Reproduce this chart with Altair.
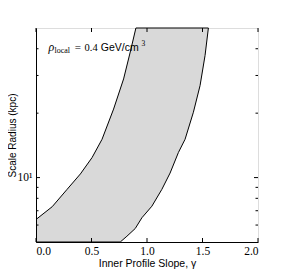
import altair as alt
import pandas as pd

# Boundary of the allowed band
left_gamma = [0.0, 0.146, 0.280, 0.400, 0.505, 0.595, 0.699, 0.789, 0.849, 0.900]
left_r = [6.37, 7.31, 8.81, 10.4, 12.4, 15.1, 20.9, 28.9, 38.6, 50.0]
right_gamma = [0.759, 0.819, 0.894, 0.954, 1.044, 1.134, 1.208, 1.283, 1.343, 1.418, 1.478, 1.523, 1.553]
right_r = [5.0, 5.32, 5.78, 6.49, 7.35, 8.81, 10.5, 13.1, 15.1, 20.2, 26.9, 37.2, 50.0]

# Axis ranges and ticks
x_domain = [0.0, 2.0]
y_domain = [5, 50]
x_ticks = [0.0, 0.5, 1.0, 1.5, 2.0]
y_major = [10]
y_minor = [6, 7, 8, 9, 20, 30, 40]

W, H = 222, 214
xs = alt.Scale(domain=x_domain, nice=False, zero=False)
ys = alt.Scale(type="log", domain=y_domain, nice=False)

# closed outline of the band: left curve up, right curve down, bottom-left corner
poly_g = left_gamma + right_gamma[::-1] + [x_domain[0]]
poly_r = left_r + right_r[::-1] + [y_domain[0]]
poly = pd.DataFrame({"g": poly_g, "r": poly_r, "o": range(len(poly_g))})
xt = pd.DataFrame({"v": x_ticks})
ymaj = pd.DataFrame({"v": y_major})
ymin = pd.DataFrame({"v": y_minor})

serif = "Liberation Serif"
sans = "Liberation Sans"

xaxis = alt.Axis(values=x_ticks, format=".1f", ticks=False, tickSize=0, grid=False,
                 labelFont=serif, labelFontSize=11.5, labelColor="black", labelPadding=3,
                 title="Inner Profile Slope, γ", titleFont=sans, titleFontSize=10.5,
                 titleFontWeight="normal", titleColor="black", titlePadding=2,
                 domainColor="black", domainWidth=1, zindex=1)
yaxis = alt.Axis(values=[10], labelExpr="datum.value == 10 ? '10¹' : ''", ticks=False,
                 tickSize=0, grid=False, labelFont=serif, labelFontSize=11.5,
                 labelColor="black", labelPadding=4,
                 title="Scale Radius (kpc)", titleFont=sans, titleFontSize=10,
                 titleFontWeight="normal", titleColor="black", titlePadding=0,
                 domainColor="black", domainWidth=1, zindex=1)

band = alt.Chart(poly).mark_line(fill="#d9d9d9", stroke="black", strokeWidth=1,
                                 strokeJoin="round").encode(
    x=alt.X("g:Q", scale=xs, axis=xaxis),
    y=alt.Y("r:Q", scale=ys, axis=yaxis),
    order="o:Q",
)

# inward ticks on all four sides
tb = alt.Chart(xt).mark_rule(color="black", strokeWidth=1).encode(
    x=alt.X("v:Q", scale=xs), y=alt.value(H), y2=alt.value(H - 4))
tt = alt.Chart(xt).mark_rule(color="black", strokeWidth=1).encode(
    x=alt.X("v:Q", scale=xs), y=alt.value(0), y2=alt.value(4))
tlM = alt.Chart(ymaj).mark_rule(color="black", strokeWidth=1).encode(
    y=alt.Y("v:Q", scale=ys), x=alt.value(0), x2=alt.value(4))
trM = alt.Chart(ymaj).mark_rule(color="black", strokeWidth=1).encode(
    y=alt.Y("v:Q", scale=ys), x=alt.value(W), x2=alt.value(W - 4))
tlm = alt.Chart(ymin).mark_rule(color="black", strokeWidth=1).encode(
    y=alt.Y("v:Q", scale=ys), x=alt.value(0), x2=alt.value(2.5))
trm = alt.Chart(ymin).mark_rule(color="black", strokeWidth=1).encode(
    y=alt.Y("v:Q", scale=ys), x=alt.value(W), x2=alt.value(W - 2.5))

# annotation: rho_local = 0.4 GeV/cm^3
ann_y = 38.9
rho = alt.Chart().mark_text(text="ρ", font=serif, fontSize=12, fontStyle="italic",
                            align="left", baseline="alphabetic", color="black").encode(
    x=alt.datum(0.112), y=alt.datum(ann_y))
loc = alt.Chart().mark_text(text="local", font=serif, fontSize=8, align="left",
                            baseline="alphabetic", dy=2, color="black").encode(
    x=alt.datum(0.167), y=alt.datum(ann_y))
eq = alt.Chart().mark_text(text="=", font=serif, fontSize=11, align="left",
                           baseline="alphabetic", color="black").encode(
    x=alt.datum(0.350), y=alt.datum(ann_y))
num = alt.Chart().mark_text(text="0.4", font=serif, fontSize=10.5, align="left",
                            baseline="alphabetic", color="black").encode(
    x=alt.datum(0.438), y=alt.datum(ann_y))
gev = alt.Chart().mark_text(text="GeV/cm", font=sans, fontSize=10.5, align="left",
                            baseline="alphabetic", color="black").encode(
    x=alt.datum(0.584), y=alt.datum(ann_y))
sup = alt.Chart().mark_text(text="3", font=serif, fontSize=7.5, align="left",
                            baseline="alphabetic", dy=-5, color="black").encode(
    x=alt.datum(0.951), y=alt.datum(ann_y))

chart = alt.layer(band, tb, tt, tlM, trM, tlm, trm,
                  rho, loc, eq, num, gev, sup).properties(
    width=W, height=H,
    autosize=alt.AutoSizeParams(type="none"),
    padding={"left": 28, "top": 20, "right": 21, "bottom": 27},
).configure_view(stroke="black", strokeWidth=1).configure_axis(grid=False).configure(
    background="white")

chart.save("out.html", embed_options={"renderer": "svg", "actions": False})
